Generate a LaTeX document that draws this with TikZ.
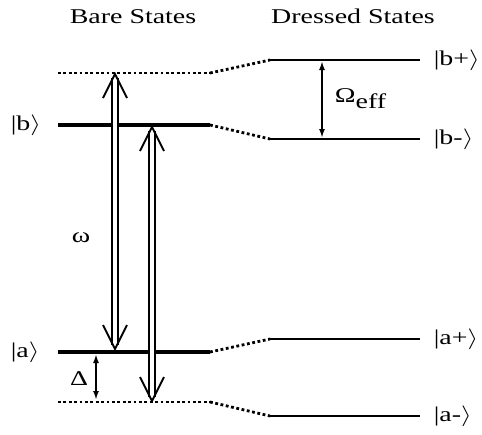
\documentclass[tikz,border=0pt]{standalone}
\usepackage{fontspec}
\setmainfont{Liberation Serif}
\usepackage{graphicx}
\newcommand{\wide}[1]{\scalebox{1.33}[1]{#1}}
\usetikzlibrary{arrows.meta}
\begin{document}
\begin{tikzpicture}[x=1pt,y=-1pt,line width=1.8pt,
  every node/.style={font=\fontsize{21}{25}\selectfont,inner sep=0pt},
  bare/.style={line width=4.4pt},
  dressed/.style={line width=2.8pt},
  virtual/.style={line width=2.8pt,dash pattern=on 2.8pt off 2.6pt},
  photon/.style={line width=2pt,double,double distance=4pt,shorten <=4pt,shorten >=4pt},
  head/.style={line width=2pt,line join=miter},
  split/.style={line width=2pt,{Latex[length=9pt,width=6pt]}-{Latex[length=9pt,width=6pt]}}]
\useasboundingbox (0,0) rectangle (482,434);
% titles
\node[anchor=base] (bare) at (133,23) {\wide{Bare States}};
\node[anchor=base] (dress) at (353,23) {\wide{Dressed States}};
% bare levels
\coordinate (bvL) at (58,73);
\coordinate (bvR) at (210,73);
\coordinate (bL) at (58,125);
\coordinate (bR) at (210,125);
\coordinate (aL) at (58,352);
\coordinate (aR) at (210,352);
\coordinate (avL) at (58,402);
\coordinate (avR) at (210,402);
% dressed levels
\coordinate (bpL) at (270,60);
\coordinate (bpR) at (420,60);
\coordinate (bmL) at (270,139);
\coordinate (bmR) at (420,139);
\coordinate (apL) at (270,339);
\coordinate (apR) at (420,339);
\coordinate (amL) at (270,416);
\coordinate (amR) at (420,416);
\draw[bare] (bL) -- (bR);
\draw[bare] (aL) -- (aR);
\draw[virtual] (bvL) -- (bvR);
\draw[virtual] (avL) -- (avR);
\draw[dressed] (bpL) -- (bpR);
\draw[dressed] (bmL) -- (bmR);
\draw[dressed] (apL) -- (apR);
\draw[dressed] (amL) -- (amR);
\draw[virtual] (bvR) -- (bpL);
\draw[virtual] (bR) -- (bmL);
\draw[virtual] (aR) -- (apL);
\draw[virtual] (avR) -- (amL);
% labels
\node[anchor=west] (kb) at (10,125) {\wide{|b$\rangle$}};
\node[anchor=west] (ka) at (10,352) {\wide{|a$\rangle$}};
\node[anchor=west] (kbp) at (433,60) {\wide{|b+$\rangle$}};
\node[anchor=west] (kbm) at (433,139) {\wide{|b-$\rangle$}};
\node[anchor=west] (kap) at (433,339) {\wide{|a+$\rangle$}};
\node[anchor=west] (kam) at (433,416) {\wide{|a-$\rangle$}};
% photons
\coordinate (u1) at (115,74);
\coordinate (d1) at (115,349);
\coordinate (u2) at (152,127);
\coordinate (d2) at (152,401);
\draw[photon] (u1) -- (d1);
\draw[photon] (u2) -- (d2);
\foreach \t/\s in {u1/1,d1/-1,u2/1,d2/-1}
  \draw[head] (\t) ++(-12,24*\s) -- (\t) -- ++(12,24*\s);
\node (w) at (81,238) {\wide{ω}};
% splittings
\coordinate (o1) at (322,61);
\coordinate (o2) at (322,138);
\draw[split] (o1) -- (o2);
\node[anchor=west] (oeff) at (334,99) {\wide{Ω\raisebox{-6pt}{eff}}};
\coordinate (d1a) at (96,354);
\coordinate (d2a) at (96,400);
\draw[split] (d1a) -- (d2a);
\node (dl) at (79,379) {\wide{Δ}};
\end{tikzpicture}
\end{document}
